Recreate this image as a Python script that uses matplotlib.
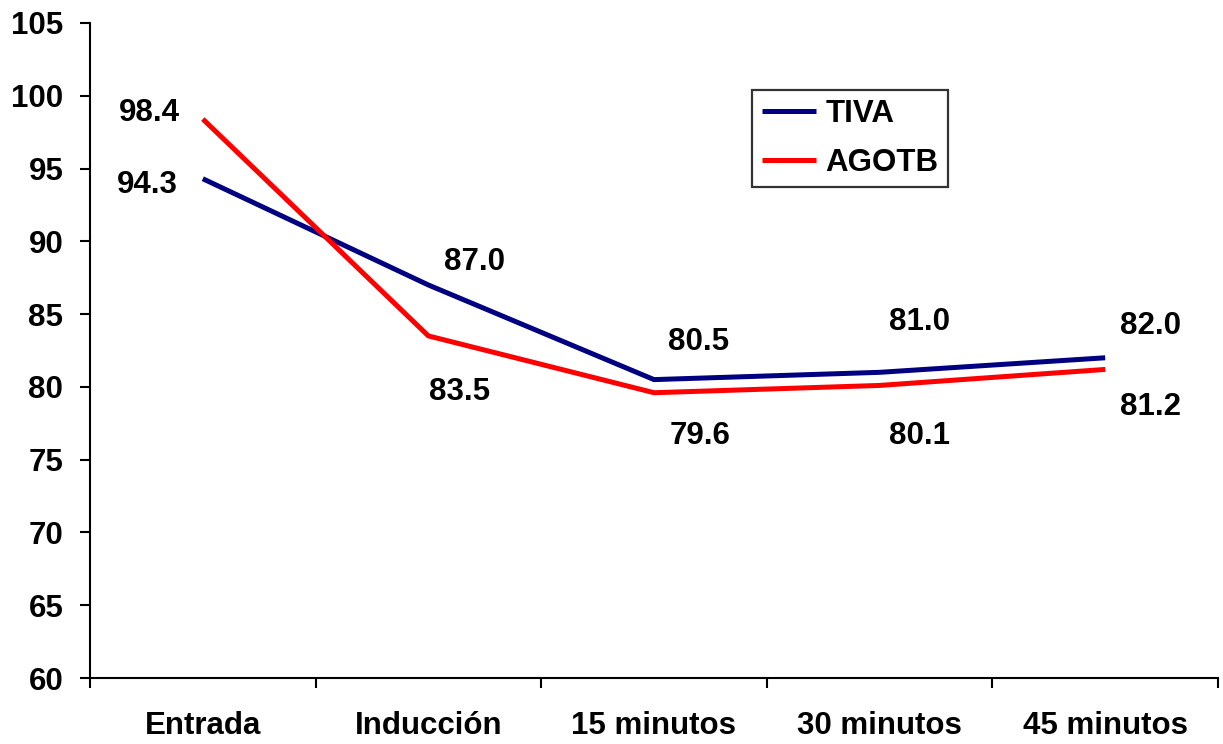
import numpy as np
import matplotlib
matplotlib.use("Agg")
from matplotlib import pyplot as plt
from matplotlib.ticker import FixedLocator

# time points and mean values for each group
categories = ["Entrada", "Inducción", "15 minutos", "30 minutos", "45 minutos"]
tiva = [94.3, 87.0, 80.5, 81.0, 82.0]
agotb = [98.4, 83.5, 79.6, 80.1, 81.2]

# label offsets (pixels) for the value annotations
tiva_offsets = [(-55, -6), (46, 23), (45, 38), (40, 50), (45, 32)]
agotb_offsets = [(-53, 6), (31, -56), (46, -43), (40, -51), (45, -38)]

FS = 22.5

plt.rcParams["font.family"] = ["Liberation Sans", "DejaVu Sans"]
plt.rcParams["font.weight"] = "bold"

fig = plt.figure(figsize=(12.23, 7.44), dpi=100)
ax = fig.add_axes([0.0736, 0.0887, 0.9223, 0.8804])

x = np.arange(len(categories))
ax.plot(x, tiva, color="#000080", linewidth=3.6, label="TIVA", solid_capstyle="butt")
ax.plot(x, agotb, color="#FF0000", linewidth=3.6, label="AGOTB", solid_capstyle="butt")

for xi, v, off in zip(x, tiva, tiva_offsets):
    ax.annotate(f"{v:.1f}", (xi, v), xytext=off, textcoords="offset pixels",
                ha="center", va="center", fontsize=FS, fontweight="bold")
for xi, v, off in zip(x, agotb, agotb_offsets):
    ax.annotate(f"{v:.1f}", (xi, v), xytext=off, textcoords="offset pixels",
                ha="center", va="center", fontsize=FS, fontweight="bold")

ax.set_xlim(-0.5, len(categories) - 0.5)
ax.set_ylim(60, 105)
ax.set_yticks(np.arange(60, 106, 5))
ax.set_xticks(x)
ax.set_xticklabels(categories)
ax.xaxis.set_minor_locator(FixedLocator(np.arange(-0.5, len(categories), 1)))

ax.tick_params(axis="x", which="major", length=0, pad=24, labelsize=FS)
ax.tick_params(axis="x", which="minor", length=7.2, width=1.5, direction="out")
ax.tick_params(axis="y", length=7.2, width=1.5, pad=12, labelsize=FS)
for lbl in ax.get_xticklabels() + ax.get_yticklabels():
    lbl.set_fontweight("bold")

for s in ["top", "right"]:
    ax.spines[s].set_visible(False)
for s in ["left", "bottom"]:
    ax.spines[s].set_linewidth(1.5)

leg = ax.legend(loc="upper left", bbox_to_anchor=(0.587, 0.898), frameon=True,
                fancybox=False, edgecolor="black", fontsize=FS, handlelength=1.75,
                handletextpad=0.3, borderpad=0.3, labelspacing=0.6,
                borderaxespad=0)
leg.get_frame().set_linewidth(1.6)
for t in leg.get_texts():
    t.set_fontweight("bold")

fig.savefig("out.png", dpi=100)
plt.close(fig)
